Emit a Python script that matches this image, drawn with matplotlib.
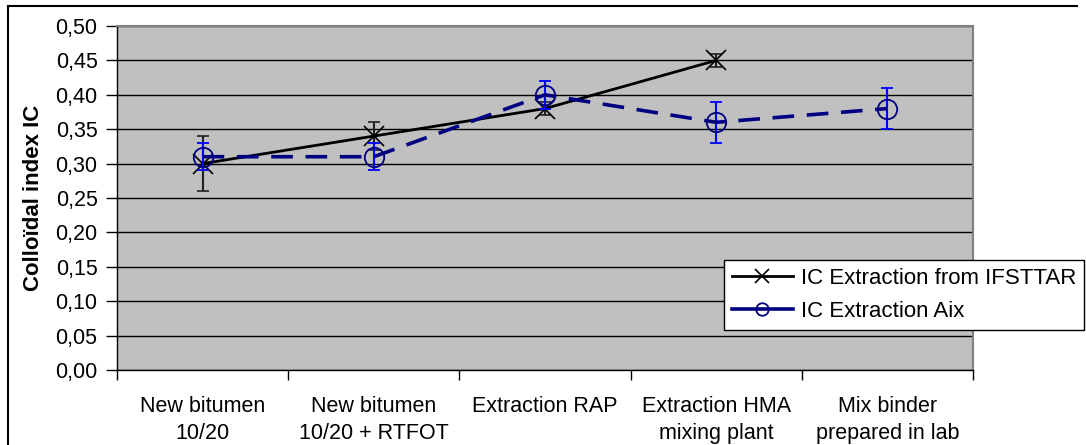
import matplotlib
matplotlib.use("Agg")
import matplotlib.pyplot as plt
from matplotlib.ticker import FuncFormatter, MultipleLocator, FixedLocator
from matplotlib.lines import Line2D

categories = ["New bitumen\n10/20", "New bitumen\n10/20 + RTFOT", "Extraction RAP",
              "Extraction HMA\nmixing plant", "Mix binder\nprepared in lab"]
ifsttar = [0.30, 0.34, 0.38, 0.45]
ifsttar_err = [0.04, 0.02, 0.01, 0.01]
aix = [0.31, 0.31, 0.40, 0.36, 0.38]
aix_err = [0.02, 0.02, 0.02, 0.03, 0.03]
series_labels = ["IC Extraction from IFSTTAR", "IC Extraction Aix"]
ylabel = "Colloïdal index IC"

plt.rcParams['font.family'] = ['Liberation Sans', 'DejaVu Sans']

fig = plt.figure(figsize=(10.86, 4.45), dpi=100)
W, H = 1086, 445
ax = fig.add_axes([117 / W, 1 - 370 / H, (973 - 117) / W, (370 - 26) / H])
ax.set_facecolor('#C0C0C0')

x1 = list(range(len(ifsttar)))
x2 = list(range(len(aix)))

ax.errorbar(x1, ifsttar, yerr=ifsttar_err, color='black', lw=2.0, marker='x',
            markersize=14, mew=1.2, ecolor='#202020', elinewidth=1.5, capsize=4.5,
            capthick=1.5, zorder=3)
ax.errorbar(x2, aix, yerr=aix_err, color='#000080', lw=2.6, ls=(0, (6, 3.5)), marker='o',
            markersize=14, mfc='none', mec='#000080', mew=1.3, ecolor='#0000FF',
            elinewidth=1.5, capsize=4.5, capthick=1.5, zorder=4)

ax.set_xlim(-0.5, len(categories) - 0.5)
ax.set_ylim(0, 0.5)
ax.yaxis.set_major_locator(MultipleLocator(0.05))
ax.yaxis.set_major_formatter(FuncFormatter(lambda v, p: f"{v:.2f}".replace('.', ',')))
ax.grid(axis='y', color='black', lw=1.0)
ax.set_axisbelow(True)

ax.set_xticks(range(len(categories)))
ax.set_xticklabels(categories, fontsize=15.5, linespacing=1.35)
ax.xaxis.set_minor_locator(FixedLocator([i - 0.5 for i in range(len(categories) + 1)]))
ax.tick_params(axis='x', which='major', length=0, pad=19)
ax.tick_params(axis='x', which='minor', length=7, width=1, color='black', direction='out')
ax.tick_params(axis='y', labelsize=15.5, length=8, width=1, direction='out', pad=6)

for s in ['top', 'right']:
    ax.spines[s].set_color('#808080')
    ax.spines[s].set_linewidth(1.5)
for s in ['left', 'bottom']:
    ax.spines[s].set_color('black')
    ax.spines[s].set_linewidth(1.0)

ax.set_ylabel(ylabel, fontsize=16, fontweight='bold', labelpad=8)

handles = [
    Line2D([], [], color='black', lw=2.0, marker='x', markersize=10, mew=1.2),
    Line2D([], [], color='#000080', lw=2.6, marker='o', markersize=9, mfc='none',
           mec='#000080', mew=1.3),
]
leg = fig.legend(handles, series_labels, loc='upper left',
                 bbox_to_anchor=(724 / W, 1 - 260 / H),
                 bbox_transform=fig.transFigure, fontsize=16, frameon=True,
                 fancybox=False, edgecolor='black', framealpha=1, handlelength=2.75,
                 borderpad=0.35, labelspacing=0.55, handletextpad=0.35, borderaxespad=0)
leg.get_frame().set_linewidth(1.0)
leg.set_zorder(10)

# figure frame (top and left edges)
fig.add_artist(Line2D([8 / W, 1077 / W], [1 - 6 / H, 1 - 6 / H], color='black', lw=1.5,
                      transform=fig.transFigure))
fig.add_artist(Line2D([8 / W, 8 / W], [1 - 6 / H, 0], color='black', lw=1.5,
                      transform=fig.transFigure))

fig.savefig("out.png", dpi=100)
